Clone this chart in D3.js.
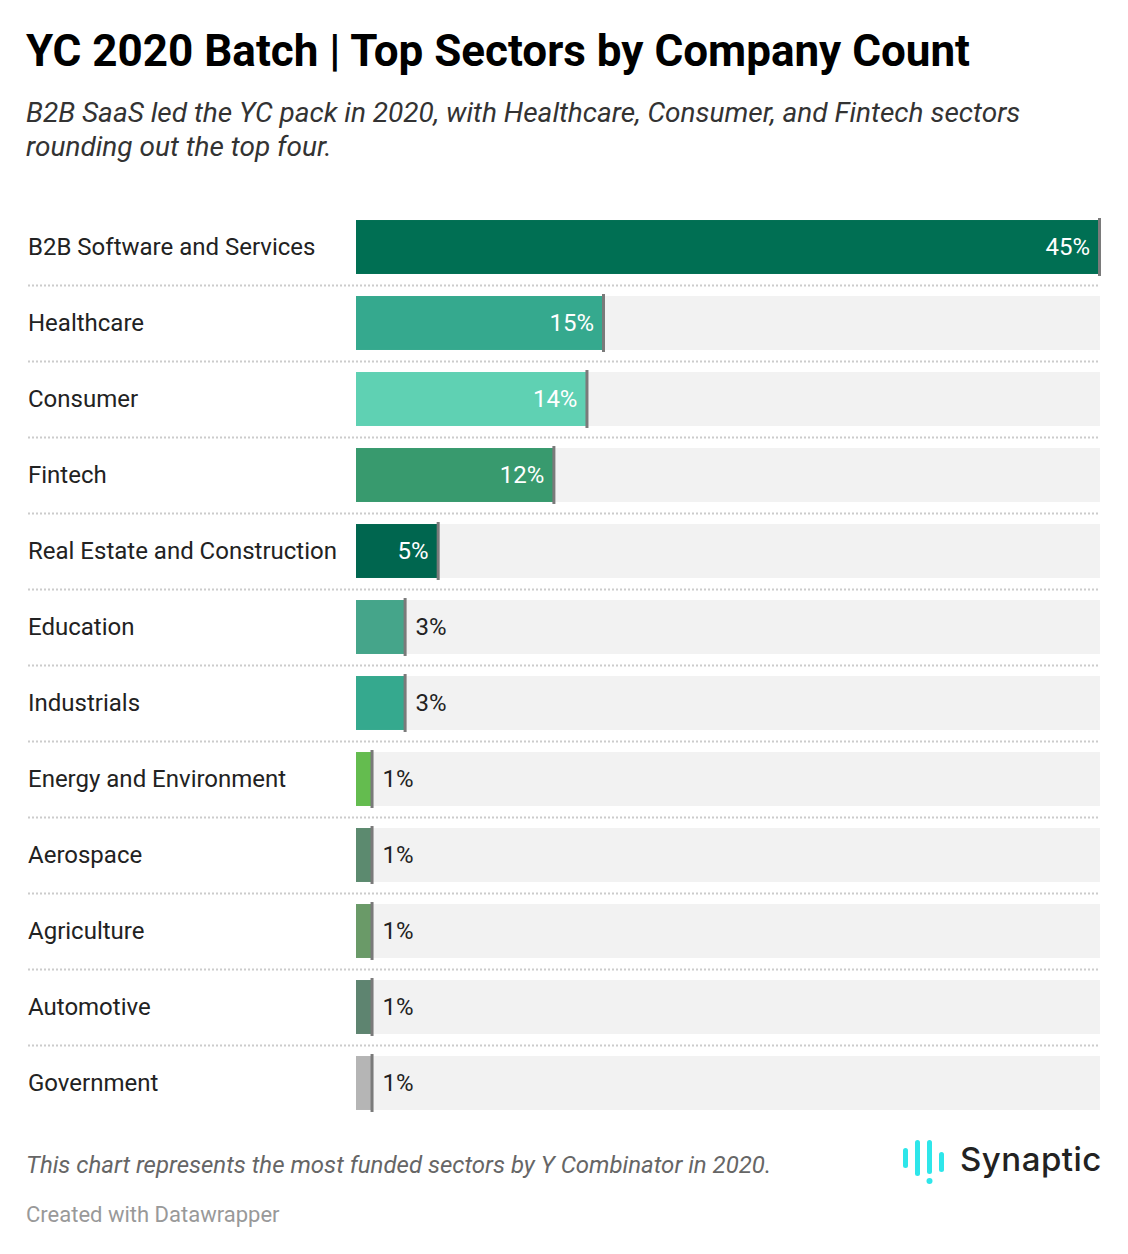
<!DOCTYPE html>
<html>
<head>
<meta charset="utf-8">
<script src="https://cdn.jsdelivr.net/npm/d3@7"></script>
<style>
  body { margin: 0; background: #fff; font-family: Roboto, "Noto Sans", sans-serif; }
</style>
</head>
<body>
<div id="chart"></div>
<script>
// sectors, top to bottom
var sectors = ["B2B Software and Services", "Healthcare", "Consumer", "Fintech",
   "Real Estate and Construction", "Education", "Industrials", "Energy and Environment",
   "Aerospace", "Agriculture", "Automotive", "Government"];
var shares = [45, 15, 14, 12, 5, 3, 3, 1, 1, 1, 1, 1];
var barColors = ["#006f53", "#35a98e", "#5fd1b3", "#389a6e", "#00664f", "#45a58a",
   "#35a98e", "#64bc4f", "#5c8a6f", "#6a9a68", "#5e8470", "#b5b5b5"];

var svgWidth = 1128;
var svgHeight = 1254;

var svg = d3.select("#chart")
   .append("svg")
   .attr("width", svgWidth)
   .attr("height", svgHeight);

// header
svg.append("text")
   .attr("x", 26).attr("y", 66)
   .attr("font-size", 44).attr("font-weight", 700).attr("fill", "#000")
   .text("YC 2020 Batch | Top Sectors by Company Count");

var subLines = ["B2B SaaS led the YC pack in 2020, with Healthcare, Consumer, and Fintech sectors",
   "rounding out the top four."];
svg.append("g").selectAll("text")
   .data(subLines).enter().append("text")
   .attr("x", 26).attr("y", (d, i) => 122 + i * 34)
   .attr("font-size", 28).attr("font-style", "italic").attr("fill", "#333")
   .text(d => d);

// scales
var x = d3.scaleLinear().domain([0, 45]).range([356, 1100]);
var y = d3.scaleBand().domain(sectors).range([209, 1121]).paddingInner(0.29).paddingOuter(0.145);

var rows = svg.append("g").selectAll("g")
   .data(sectors).enter().append("g");

// background track
rows.append("rect")
   .attr("x", x(0)).attr("y", d => y(d))
   .attr("width", x(45) - x(0)).attr("height", y.bandwidth())
   .attr("fill", "#f2f2f2");

// bars
rows.append("rect")
   .attr("x", x(0)).attr("y", d => y(d))
   .attr("width", (d, i) => x(shares[i]) - x(0)).attr("height", y.bandwidth())
   .attr("fill", (d, i) => barColors[i]);

// end markers
rows.append("rect")
   .attr("x", (d, i) => x(shares[i]) - 2).attr("y", d => y(d) - 2)
   .attr("width", 3).attr("height", y.bandwidth() + 4)
   .attr("fill", "#7a7a7a");

// category labels
rows.append("text")
   .attr("x", 28).attr("y", d => y(d) + y.bandwidth() / 2)
   .attr("dy", "0.35em")
   .attr("font-size", 24).attr("fill", "#222")
   .text(d => d);

// value labels
rows.append("text")
   .attr("x", (d, i) => shares[i] >= 5 ? x(shares[i]) - 10 : x(shares[i]) + 10)
   .attr("y", d => y(d) + y.bandwidth() / 2)
   .attr("dy", "0.35em")
   .attr("text-anchor", (d, i) => shares[i] >= 5 ? "end" : "start")
   .attr("font-size", 24)
   .attr("fill", (d, i) => shares[i] >= 5 ? "#fff" : "#222")
   .text((d, i) => shares[i] + "%");

// dotted separators
svg.append("g").selectAll("line")
   .data(sectors.slice(0, -1)).enter().append("line")
   .attr("x1", 28).attr("x2", 1100)
   .attr("y1", d => y(d) + y.bandwidth() + 11.5)
   .attr("y2", d => y(d) + y.bandwidth() + 11.5)
   .attr("stroke", "#cccccc").attr("stroke-width", 2)
   .attr("stroke-dasharray", "2,2");

// footer
svg.append("text")
   .attr("x", 26).attr("y", 1173)
   .attr("font-size", 24).attr("font-style", "italic").attr("fill", "#666")
   .text("This chart represents the most funded sectors by Y Combinator in 2020.");
svg.append("text")
   .attr("x", 26).attr("y", 1222)
   .attr("font-size", 22).attr("fill", "#999")
   .text("Created with Datawrapper");

// logo
var logo = svg.append("g").attr("transform", "translate(903, 1140)");
var logoBars = [[0, 8, 20], [12, 0, 36], [24, 0, 34], [36, 12, 20]];
logo.selectAll("rect.lb")
   .data(logoBars).enter().append("rect")
   .attr("x", d => d[0]).attr("y", d => d[1])
   .attr("width", 5).attr("height", d => d[2])
   .attr("rx", 2.5).attr("fill", "#2ee6ea");
logo.append("circle").attr("cx", 26.5).attr("cy", 41).attr("r", 3).attr("fill", "#2ee6ea");
logo.append("text")
   .attr("x", 57).attr("y", 31)
   .attr("font-family", "Inter, Roboto, sans-serif")
   .attr("font-size", 33).attr("font-weight", 500).attr("fill", "#222")
   .attr("letter-spacing", 0.5)
   .text("Synaptic");
</script>
</body>
</html>
